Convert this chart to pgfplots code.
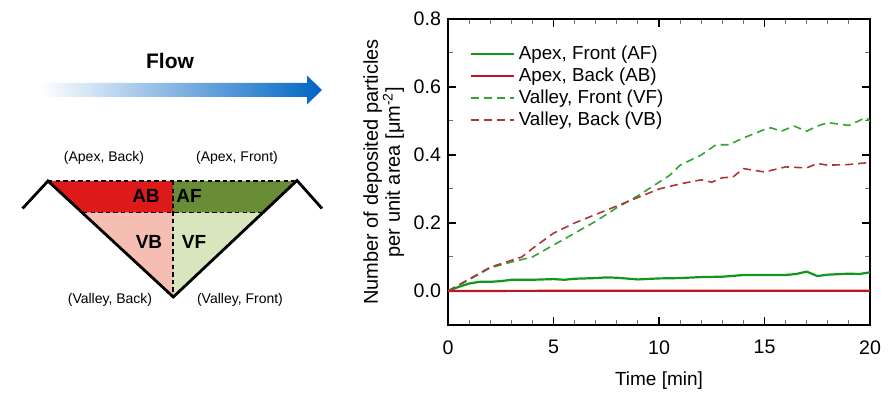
\documentclass[border=0pt]{standalone}
\usepackage{pgfplots}
\usepackage{pgfplotstable}
\pgfplotsset{compat=1.18}
\usepackage{fontspec}
\setmainfont{Liberation Sans}
\definecolor{cAF}{RGB}{20,150,30}
\definecolor{cAB}{RGB}{190,20,40}
\definecolor{cVF}{RGB}{50,165,50}
\definecolor{cVB}{RGB}{170,55,55}
\definecolor{rAB}{RGB}{222,25,25}
\definecolor{rAF}{RGB}{105,140,55}
\definecolor{rVB}{RGB}{246,190,178}
\definecolor{rVF}{RGB}{216,230,190}
\definecolor{flowblue}{RGB}{0,100,195}
\pgfplotstableread{
t v
0 0
0.5 0.012
1 0.022
1.5 0.027
2 0.027
2.5 0.029
3 0.033
4 0.033
5 0.035
5.5 0.033
6 0.036
7 0.038
7.5 0.040
8 0.039
9 0.034
10 0.037
11 0.038
12 0.041
13 0.042
14 0.047
15 0.047
16 0.047
16.5 0.050
17 0.057
17.5 0.044
18 0.048
19 0.051
19.5 0.050
20 0.055
}\tabAF
\pgfplotstableread{
t v
0 0
5 0.0005
10 0.001
15 0.001
20 0.001
}\tabAB
\pgfplotstableread{
t v
0 0
1 0.033
2 0.068
3 0.085
4 0.100
5 0.135
6 0.170
7 0.205
8 0.245
9 0.280
10 0.320
10.5 0.340
11 0.370
12 0.400
12.7 0.430
13.3 0.430
14 0.450
15 0.475
15.3 0.480
15.8 0.470
16.4 0.485
17 0.470
17.5 0.485
18 0.495
19 0.487
19.8 0.510
20 0.500
}\tabVF
\pgfplotstableread{
t v
0 0
1 0.035
2 0.070
3 0.090
3.5 0.100
4 0.125
5 0.170
6 0.200
7 0.225
8 0.250
9 0.275
10 0.300
11 0.315
12 0.327
12.5 0.320
13 0.333
13.5 0.335
14 0.360
15 0.350
16 0.365
17 0.362
17.5 0.375
18 0.370
19 0.372
20 0.378
}\tabVB
\begin{document}
\begin{tikzpicture}[font=\fontsize{9.5}{11}\selectfont]
% ---------- schematic (pixel coordinates of the reference, y downwards)
\begin{axis}[at={(0pt,0pt)}, anchor=south west, scale only axis,
  width=446.5pt, height=202.5pt, xmin=0, xmax=893, ymin=0, ymax=405,
  y dir=reverse, hide axis, clip=false]
  % flow arrow
  \addplot[draw=none, left color=white, right color=flowblue] coordinates
    {(40,83) (307,83) (307,75.5) (322,90) (307,104.5) (307,97) (40,97)} -- cycle;
  \node[font=\fontsize{10.5}{12}\selectfont\bfseries] at (axis cs:170,61) {Flow};
  % regions
  \addplot[draw=none, fill=rAB] coordinates {(48,181) (173,181) (173,212.7) (83,212.7)} -- cycle;
  \addplot[draw=none, fill=rAF] coordinates {(173,181) (297,181) (265,212.7) (173,212.7)} -- cycle;
  \addplot[draw=none, fill=rVB] coordinates {(83,212.7) (173,212.7) (173,297)} -- cycle;
  \addplot[draw=none, fill=rVF] coordinates {(173,212.7) (265,212.7) (173,297)} -- cycle;
  % dashed lines
  \addplot[black, line width=0.7pt, dash pattern=on 2.2pt off 1.6pt] coordinates {(48,181) (297,181)};
  \addplot[black, line width=0.7pt, dash pattern=on 2.2pt off 1.6pt] coordinates {(83,212.7) (265,212.7)};
  \addplot[black, line width=0.7pt, dash pattern=on 2.2pt off 1.6pt] coordinates {(173,181) (173,297)};
  % profile
  \addplot[black, line width=1.4pt] coordinates {(22.5,208.5) (48,181) (173.3,297) (297,180.5) (322,208.5)};
  % texts
  \node[font=\fontsize{9.5}{10}\selectfont\bfseries] at (axis cs:146,196) {AB};
  \node[font=\fontsize{9.5}{10}\selectfont\bfseries] at (axis cs:189,196) {AF};
  \node[font=\fontsize{9.5}{10}\selectfont\bfseries] at (axis cs:149,242) {VB};
  \node[font=\fontsize{9.5}{10}\selectfont\bfseries] at (axis cs:194,242) {VF};
  \node[font=\fontsize{7}{8}\selectfont] at (axis cs:104,158) {(Apex, Back)};
  \node[font=\fontsize{7}{8}\selectfont] at (axis cs:237,158) {(Apex, Front)};
  \node[font=\fontsize{7}{8}\selectfont] at (axis cs:110,300) {(Valley, Back)};
  \node[font=\fontsize{7}{8}\selectfont] at (axis cs:240,300) {(Valley, Front)};
\end{axis}
% ---------- chart
\begin{axis}[at={(224pt,40pt)}, anchor=south west, scale only axis,
  width=211pt, height=153pt,
  xmin=0, xmax=20, ymin=-0.1, ymax=0.8,
  xtick={0,5,...,20}, minor x tick num=4,
  ytick={0,0.2,...,0.8}, minor y tick num=1,
  tick align=inside, major tick length=4pt, minor tick length=2.5pt,
  major tick style={black, line width=0.8pt},
  minor tick style={black!55, line width=0.5pt},
  axis line style={line width=1pt},
  /pgf/number format/assume math mode=true,
  yticklabel style={/pgf/number format/fixed, /pgf/number format/fixed zerofill, /pgf/number format/precision=1},
  tick label style={font=\fontsize{9.8}{12}\selectfont},
  xticklabel style={yshift=-4.2pt},
  xlabel={Time [min]},
  ylabel={Number of deposited particles\\per unit area [μm\textsuperscript{-2}]},
  ylabel style={align=center, font=\fontsize{10}{11}\selectfont, yshift=-2pt},
  xlabel style={font=\fontsize{9.5}{11}\selectfont, yshift=-2pt},
  legend style={draw=none, fill=none, at={(0.036,0.94)}, anchor=north west,
    font=\fontsize{9.4}{11}\selectfont, row sep=-1.3pt,
    /tikz/every even column/.append style={column sep=0pt}},
  legend cell align=left,
  legend image code/.code={\draw[#1] (0pt,0pt) -- (21.5pt,0pt);},
]
  \addplot[cAF, line width=1.1pt] table[x=t, y=v] {\tabAF};
  \addlegendentry{Apex, Front (AF)}
  \addplot[cAB, line width=1.1pt] table[x=t, y=v] {\tabAB};
  \addlegendentry{Apex, Back (AB)}
  \addplot[cVF, line width=0.8pt, dash pattern=on 4pt off 2.5pt] table[x=t, y=v] {\tabVF};
  \addlegendentry{Valley, Front (VF)}
  \addplot[cVB, line width=0.8pt, dash pattern=on 4pt off 2.5pt] table[x=t, y=v] {\tabVB};
  \addlegendentry{Valley, Back (VB)}
\end{axis}
\pgfresetboundingbox
\useasboundingbox (0pt,0pt) rectangle (446.5pt,202.5pt);
\end{tikzpicture}
\end{document}
